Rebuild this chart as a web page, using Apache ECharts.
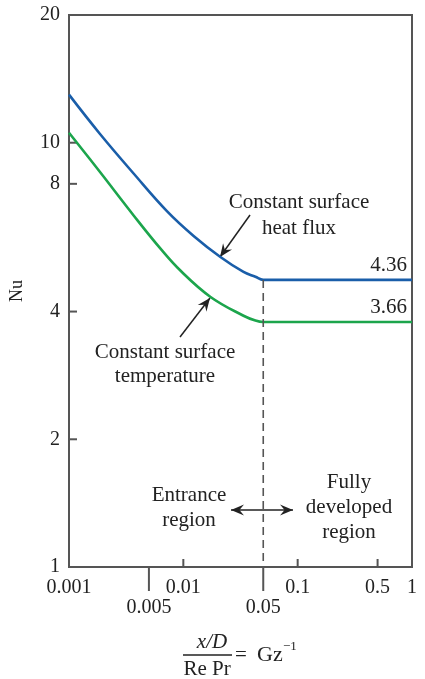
<!DOCTYPE html>
<html>
<head>
<meta charset="utf-8">
<script src="https://cdn.jsdelivr.net/npm/echarts@6/dist/echarts.min.js"></script>
<style>
  html, body { margin: 0; padding: 0; background: #fff; }
  #main { width: 425px; height: 679px; }
</style>
</head>
<body>
<div id="main"></div>
<script>
var myChart = echarts.init(document.getElementById('main'));

// Gz^-1 values and Nu readings
var heatFluxX = [0.001, 0.00186, 0.00369, 0.00715, 0.0123, 0.0211, 0.0336, 0.0427, 0.05, 1];
var heatFluxNu = [12.98, 10.5, 8.45, 6.91, 6.03, 5.38, 4.96, 4.83, 4.75, 4.75];
var tempX = [0.001, 0.00186, 0.00369, 0.00634, 0.00947, 0.0173, 0.0336, 0.0427, 0.05, 1];
var tempNu = [10.56, 8.54, 6.73, 5.62, 4.99, 4.33, 3.91, 3.81, 3.78, 3.78];
var dividerX = [0.05, 0.05];
var dividerNu = [4.75, 1];

var xTicksUp = [0.01, 0.1, 0.5];
var xTicksDown = [0.005, 0.05];
var xLabelsRow1 = [0.001, 0.01, 0.1, 0.5, 1];
var xLabelsRow2 = [0.005, 0.05];
var yTicks = [2, 4, 8, 10];
var yLabels = [1, 2, 4, 8, 10, 20];

var serif = '"Liberation Serif", "DejaVu Serif", serif';
var ink = '#222';
var axisGray = '#555';

function zip(a, b) {
    var out = [];
    for (var i = 0; i < a.length; i++) out.push([a[i], b[i]]);
    return out;
}
function atY(vals, y) { return vals.map(function (v) { return [v, y]; }); }
function atX(vals, x) { return vals.map(function (v) { return [x, v]; }); }

function arrowHead(x1, y1, x2, y2) {
    var a = Math.atan2(y2 - y1, x2 - x1);
    var len = 13, w = 5.5;
    var bx = x2 - len * Math.cos(a), by = y2 - len * Math.sin(a);
    var cx = x2 - len * 0.65 * Math.cos(a), cy = y2 - len * 0.65 * Math.sin(a);
    return {
        type: 'polygon',
        shape: { points: [[x2, y2],
            [bx + w * Math.sin(a), by - w * Math.cos(a)],
            [cx, cy],
            [bx - w * Math.sin(a), by + w * Math.cos(a)]] },
        style: { fill: ink }
    };
}
function arrow(x1, y1, x2, y2, both) {
    var els = [{
        type: 'line',
        shape: { x1: x1, y1: y1, x2: x2, y2: y2 },
        style: { stroke: ink, lineWidth: 1.5 }
    }, arrowHead(x1, y1, x2, y2)];
    if (both) els.push(arrowHead(x2, y2, x1, y1));
    return els;
}
function txt(x, y, text, size, align, extra) {
    var t = {
        type: 'text', x: x, y: y,
        style: {
            text: text, fill: ink,
            font: (size || 21) + 'px ' + serif,
            align: align || 'center', verticalAlign: 'middle'
        }
    };
    if (extra) for (var k in extra) t.style[k] = extra[k];
    return t;
}

var graphics = [].concat(
    [txt(299, 202, 'Constant surface'), txt(299, 228, 'heat flux')],
    arrow(250, 215, 220, 257),
    [txt(165, 352, 'Constant surface'), txt(165, 376, 'temperature')],
    arrow(180, 337, 210, 298),
    [txt(407, 265, '4.36', 21, 'right'), txt(407, 307, '3.66', 21, 'right')],
    [txt(189, 495, 'Entrance'), txt(189, 520, 'region')],
    arrow(231, 510, 293, 510, true),
    [txt(349, 482, 'Fully'), txt(349, 507, 'developed'), txt(349, 532, 'region')],
    [
        { type: 'text', x: 212, y: 642, style: { text: 'x/D', fill: ink, font: 'italic 21px ' + serif, align: 'center', verticalAlign: 'middle' } },
        { type: 'line', shape: { x1: 183, y1: 655, x2: 232, y2: 655 }, style: { stroke: ink, lineWidth: 1.3 } },
        txt(207, 669, 'Re Pr', 21),
        txt(235, 655, '=', 21, 'left'),
        txt(257, 655, 'Gz', 22, 'left'),
        txt(283, 647, '\u22121', 13, 'left')
    ]
);

var labelBase = { fontFamily: serif, fontSize: 20, color: ink };

option = {
    backgroundColor: '#fff',
    animation: false,
    grid: {
        left: 68, right: 13, top: 15, bottom: 112,
        show: true, borderColor: axisGray, borderWidth: 2
    },
    xAxis: {
        type: 'log', logBase: 10, min: 0.001, max: 1,
        axisLine: { show: true, lineStyle: { color: axisGray, width: 2 } },
        axisTick: { show: false },
        axisLabel: { show: false },
        splitLine: { show: false }
    },
    yAxis: {
        type: 'log', logBase: 10, min: 1, max: 20,
        name: 'Nu', nameLocation: 'middle', nameGap: 43, nameRotate: 90,
        nameTextStyle: { fontFamily: serif, fontSize: 18, color: ink },
        axisLine: { show: true, lineStyle: { color: axisGray, width: 2 } },
        axisTick: { show: false },
        axisLabel: { show: false },
        splitLine: { show: false }
    },
    series: [{
        name: 'Constant surface heat flux',
        type: 'line', smooth: 0.4, showSymbol: false,
        lineStyle: { color: '#1a5ea9', width: 2.6 },
        data: zip(heatFluxX, heatFluxNu)
    }, {
        name: 'Constant surface temperature',
        type: 'line', smooth: 0.4, showSymbol: false,
        lineStyle: { color: '#1ca54c', width: 2.6 },
        data: zip(tempX, tempNu)
    }, {
        name: 'divider',
        type: 'line', showSymbol: false,
        lineStyle: { color: axisGray, width: 1.6, type: [8, 5] },
        data: zip(dividerX, dividerNu)
    }, {
        name: 'xTicksUp', type: 'scatter', clip: false, silent: true,
        symbol: 'rect', symbolSize: [2, 8], symbolOffset: [0, -4],
        itemStyle: { color: axisGray, opacity: 1 },
        data: atY(xTicksUp, 1)
    }, {
        name: 'xTicksDown', type: 'scatter', clip: false, silent: true,
        symbol: 'rect', symbolSize: [2, 24], symbolOffset: [0, 12],
        itemStyle: { color: axisGray, opacity: 1 },
        data: atY(xTicksDown, 1)
    }, {
        name: 'yTicks', type: 'scatter', clip: false, silent: true,
        symbol: 'rect', symbolSize: [8, 2], symbolOffset: [4, 0],
        itemStyle: { color: axisGray, opacity: 1 },
        data: atX(yTicks, 0.001)
    }, {
        name: 'xLabels1', type: 'scatter', clip: false, silent: true, symbolSize: 0,
        itemStyle: { opacity: 1 },
        label: echarts.util.extend({
            show: true, position: 'inside', offset: [0, 21],
            formatter: function (p) { return String(p.value[0]); }
        }, labelBase),
        data: atY(xLabelsRow1, 1)
    }, {
        name: 'xLabels2', type: 'scatter', clip: false, silent: true, symbolSize: 0,
        itemStyle: { opacity: 1 },
        label: echarts.util.extend({
            show: true, position: 'inside', offset: [0, 41],
            formatter: function (p) { return String(p.value[0]); }
        }, labelBase),
        data: atY(xLabelsRow2, 1)
    }, {
        name: 'yLabels', type: 'scatter', clip: false, silent: true, symbolSize: 0,
        itemStyle: { opacity: 1 },
        label: echarts.util.extend({
            show: true, position: 'inside', offset: [-9, 0], align: 'right',
            formatter: function (p) { return String(p.value[1]); }
        }, labelBase),
        data: atX(yLabels, 0.001)
    }],
    graphic: graphics
};

myChart.setOption(option);
</script>
</body>
</html>
